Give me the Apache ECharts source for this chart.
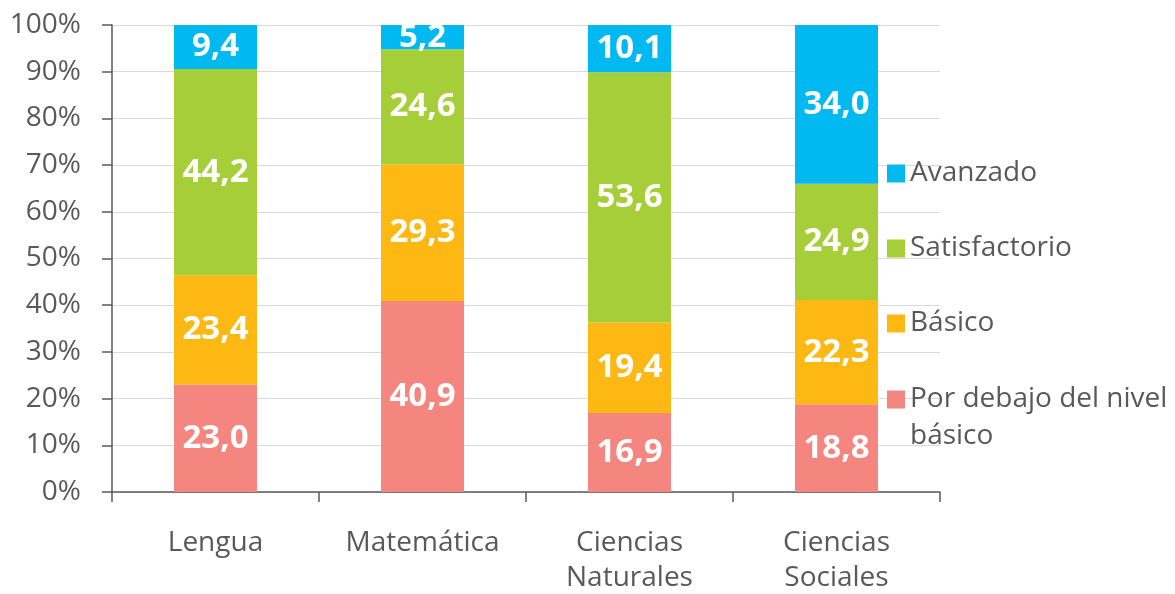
<!DOCTYPE html>
<html>
<head>
<meta charset="utf-8">
<script src="https://cdn.jsdelivr.net/npm/echarts@6/dist/echarts.min.js"></script>
<style>html,body{margin:0;padding:0;background:#fff}#c{width:1175px;height:594px}</style>
</head>
<body>
<div id="c"></div>
<script>
var categories = ['Lengua', 'Matemática', 'Ciencias\nNaturales', 'Ciencias\nSociales'];
var porDebajo = [23.0, 40.9, 16.9, 18.8];
var basico = [23.4, 29.3, 19.4, 22.3];
var satisfactorio = [44.2, 24.6, 53.6, 24.9];
var avanzado = [9.4, 5.2, 10.1, 34.0];
var seriesNames = ['Por debajo del nivel básico', 'Básico', 'Satisfactorio', 'Avanzado'];
var colors = ['#F4857F', '#FDB813', '#A6CE39', '#00B9F1'];

var FONT = '"Open Sans", "Noto Sans", sans-serif';
var TXT = '#595959';

function mk(name, data, color) {
  return {
    name: name, type: 'bar', stack: 'total', data: data, barWidth: 83,
    itemStyle: { color: color },
    label: {
      show: true, position: 'inside', color: '#fff', fontWeight: 'bold',
      fontSize: 33, fontFamily: FONT,
      formatter: function (p) { return p.value.toFixed(1).replace('.', ','); }
    }
  };
}

var chart = echarts.init(document.getElementById('c'));
chart.setOption({
  animation: false,
  grid: { left: 112, right: 235, top: 25, bottom: 102, containLabel: false, outerBoundsMode: 'none' },
  legend: [
    {
      orient: 'vertical', left: 887, top: 155, padding: 0, itemGap: 38,
      itemWidth: 18, itemHeight: 18, icon: 'rect',
      data: ['Avanzado', 'Satisfactorio', 'Básico'],
      textStyle: { color: TXT, fontSize: 28, fontFamily: FONT, lineHeight: 37 }
    },
    {
      orient: 'vertical', left: 887, top: 344, padding: 0,
      itemWidth: 18, itemHeight: 18, icon: 'rect',
      data: ['Por debajo del nivel básico'],
      formatter: function () { return ' \nPor debajo del nivel\nbásico'; },
      textStyle: { color: TXT, fontSize: 28, fontFamily: FONT, lineHeight: 37 }
    }
  ],
  xAxis: {
    type: 'category', data: categories,
    axisLine: { lineStyle: { color: TXT, width: 1.5 } },
    axisTick: { show: true, length: 10, lineStyle: { color: TXT, width: 1.5 } },
    axisLabel: { color: TXT, fontSize: 28, fontFamily: FONT, margin: 34, lineHeight: 35 }
  },
  yAxis: {
    type: 'value', min: 0, max: 100, interval: 10,
    axisLine: { show: true, lineStyle: { color: TXT, width: 1.5 } },
    axisTick: { show: true, length: 10, lineStyle: { color: TXT, width: 1.5 } },
    splitLine: { lineStyle: { color: '#D9D9D9', width: 1 } },
    axisLabel: { color: TXT, fontSize: 28, fontFamily: FONT, margin: 31, formatter: '{value}%' }
  },
  series: [
    mk(seriesNames[0], porDebajo, colors[0]),
    mk(seriesNames[1], basico, colors[1]),
    mk(seriesNames[2], satisfactorio, colors[2]),
    mk(seriesNames[3], avanzado, colors[3])
  ]
});
</script>
</body>
</html>
